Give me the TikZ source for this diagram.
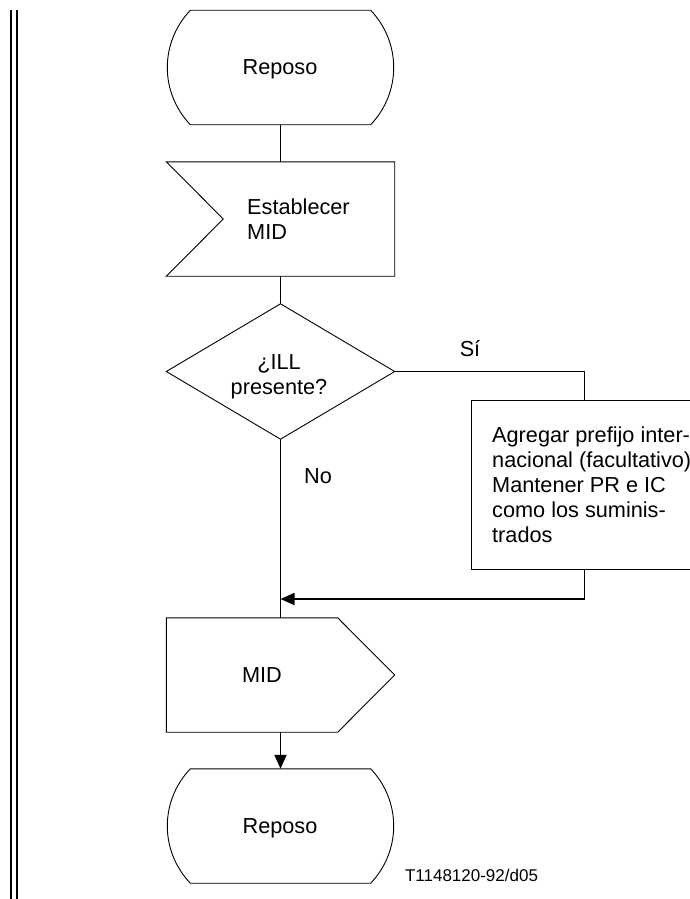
\documentclass[tikz,border=0pt]{standalone}
\usepackage{fontspec}
\setmainfont{Liberation Sans}
\usetikzlibrary{calc,arrows.meta}

\tikzset{
  outline/.style={line width=0.9pt, line join=miter},
  flow/.style={line width=1.8pt},
  arrowflow/.style={flow, -{Triangle[length=14pt,width=12pt]}},
  frame/.style={minimum width=228pt, minimum height=114pt, inner sep=0pt},
  restframe/.style={minimum width=226pt, minimum height=114pt, inner sep=0pt},
  txt/.style={font=\fontsize{21.7}{25}\selectfont, inner sep=0pt},
  smalltxt/.style={font=\fontsize{17}{20}\selectfont, inner sep=0pt},
  rule/.style={line width=2pt}
}

% rest state: flat top and bottom, bulging sides
\newcommand\restoutline[1]{%
  \draw[outline] ($(#1.north west)+(23,0)$) -- ($(#1.north east)+(-23,0)$)
    .. controls ($(#1.north east)+(-8.3,15.5)$) and ($(#1.east)+(0,-21.4)$) .. (#1.east)
    .. controls ($(#1.east)+(0,21.4)$) and ($(#1.south east)+(-8.3,-15.5)$) .. ($(#1.south east)+(-23,0)$)
    -- ($(#1.south west)+(23,0)$)
    .. controls ($(#1.south west)+(8.3,-15.5)$) and ($(#1.west)+(0,21.4)$) .. (#1.west)
    .. controls ($(#1.west)+(0,-21.4)$) and ($(#1.north west)+(8.3,15.5)$) .. ($(#1.north west)+(23,0)$)
    -- cycle;}

\begin{document}
\begin{tikzpicture}[x=1pt, y=-1pt]
  \useasboundingbox (0,0) rectangle (690,899);
  \clip (0,0) rectangle (690,899);

  % double margin rule
  \draw[rule] (11,10) -- (11,899);
  \draw[rule] (17,10) -- (17,899);

  % start state
  \node[restframe] (rest1) at (280.5,67.5) {};
  \restoutline{rest1}
  \node[txt] (rest1txt) at (280,69) {Reposo};

  % input signal
  \node[frame] (in1) at (280.5,219) {};
  \draw[outline] (in1.north west) -- (in1.north east) -- (in1.south east)
    -- (in1.south west) -- ($(in1.west)+(57,0)$) -- cycle;
  \node[txt, align=left, anchor=west] (in1txt) at (247,219.5) {Establecer\\MID};

  % decision
  \node[minimum width=228pt, minimum height=135pt, inner sep=0pt] (dec) at (280.5,371.5) {};
  \draw[outline] (dec.north) -- (dec.east) -- (dec.south) -- (dec.west) -- cycle;
  \node[txt, align=center] (dectxt) at (279,377) {¿ILL\\presente?};

  % task box
  \node[draw, outline, minimum width=227pt, minimum height=169pt, inner sep=0pt] (box) at (584.5,484.5) {};
  \node[txt, align=left, anchor=west] (boxtxt) at (492,484.5)
    {Agregar prefijo inter-\\nacional (facultativo)\\Mantener PR e IC\\como los suminis-\\trados};

  % output signal
  \node[frame] (out1) at (280.5,675) {};
  \draw[outline] (out1.north west) -- ($(out1.north east)+(-57,0)$) -- (out1.east)
    -- ($(out1.south east)+(-57,0)$) -- (out1.south west) -- cycle;
  \node[txt] (out1txt) at (262,675) {MID};

  % end state
  \node[restframe] (rest2) at (280.5,826) {};
  \restoutline{rest2}
  \node[txt] (rest2txt) at (280,828) {Reposo};

  % branch labels
  \node[txt] (yes) at (470,349) {Sí};
  \node[txt] (no) at (318,476) {No};

  % connectors
  \coordinate (merge) at (280.5,599);
  \draw[flow] (rest1.south) -- (in1.north);
  \draw[flow] (in1.south) -- (dec.north);
  \draw[flow] (dec.east) -| (box.north);
  \draw[arrowflow] (box.south) |- (merge);
  \draw[flow] (dec.south) -- (out1.north);
  \draw[arrowflow] (out1.south) -- (rest2.north);

  % figure reference
  \node[smalltxt] (ref) at (471.5,875) {T1148120-92/d05};
\end{tikzpicture}
\end{document}
